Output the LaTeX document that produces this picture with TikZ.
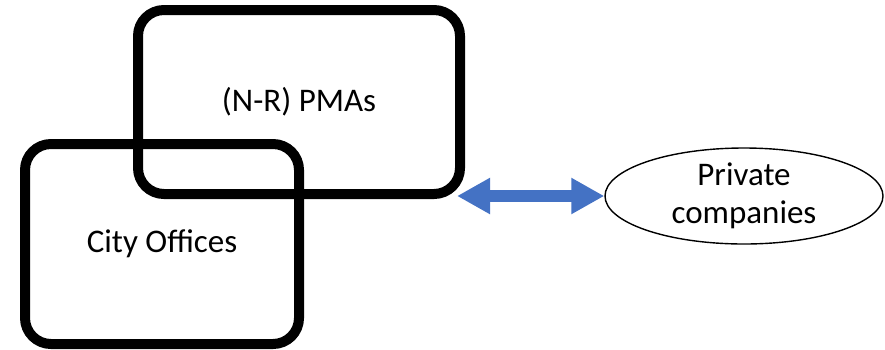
\documentclass[tikz,border=0pt]{standalone}
\usepackage{fontspec}
\setmainfont{Carlito}
\usetikzlibrary{arrows.meta,shapes.geometric}
\definecolor{linkblue}{HTML}{4472C4}
\begin{document}
\begin{tikzpicture}[x=1pt,y=-1pt,
  group/.style={draw=black,line width=10pt,rounded corners=26pt,
    font=\fontsize{33}{38}\selectfont},
  party/.style={ellipse,draw=black,line width=1.4pt,inner sep=0pt,
    align=center,font=\fontsize{33}{38}\selectfont},
  link/.style={draw=linkblue,line width=12pt,
    {Triangle[length=33pt,width=34pt]}-{Triangle[length=33pt,width=34pt]}}]
  \useasboundingbox (0,0) rectangle (885,349);
  % overlapping organisation groups
  \node[group,minimum width=322pt,minimum height=184pt] (pma) at (299,102) {(N-R) PMAs};
  \node[group,minimum width=274pt,minimum height=200pt] (city) at (162,244) {City Offices};
  % outside party
  \node[party,minimum width=278pt,minimum height=96pt] (priv) at (744,196) {Private\\companies};
  % two-way link
  \coordinate (linkend) at (457,196);
  \draw[link] (linkend) -- (priv.west);
\end{tikzpicture}
\end{document}
